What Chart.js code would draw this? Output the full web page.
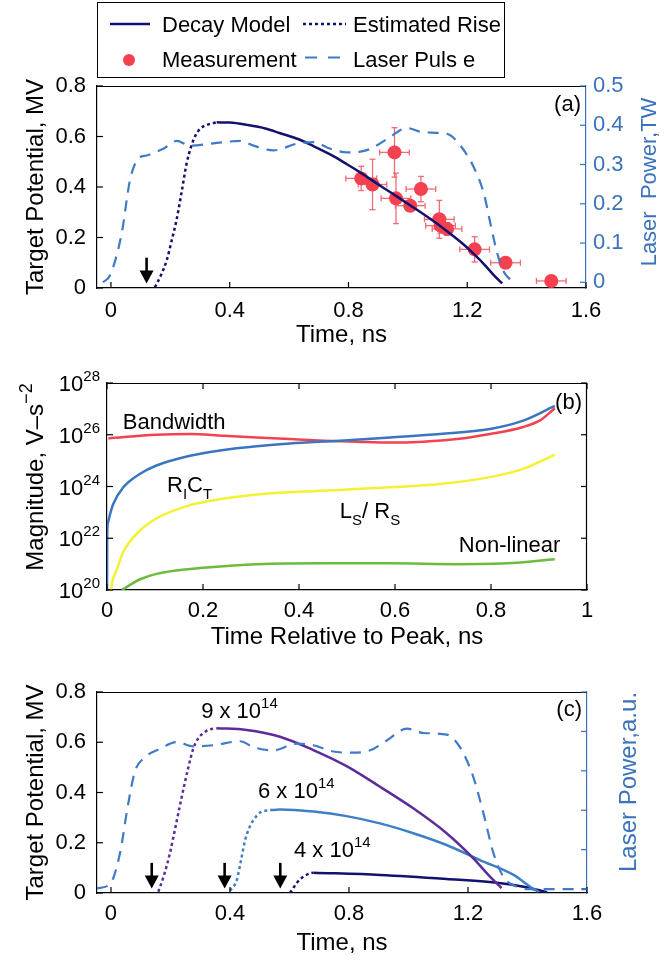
<!DOCTYPE html>
<html><head><meta charset="utf-8">
<script src="https://cdn.jsdelivr.net/npm/chart.js@4.4.1/dist/chart.umd.min.js"></script>
<style>
html,body{margin:0;padding:0;background:#fff;}
body{width:672px;height:960px;position:relative;overflow:hidden;}
canvas{position:absolute;left:0;}
</style></head><body>
<canvas id="ca" width="672" height="345" style="top:0"></canvas>
<canvas id="cb" width="672" height="315" style="top:345px"></canvas>
<canvas id="cc" width="672" height="300" style="top:660px"></canvas>
<script>
// ---------------- DATA ----------------
// Panel (a)
const xTicksA = [0, 0.4, 0.8, 1.2, 1.6];
const xLabelsA = ['0', '0.4', '0.8', '1.2', '1.6'];
const yTicksA = [0, 0.2, 0.4, 0.6, 0.8];
const yLabelsA = ['0', '0.2', '0.4', '0.6', '0.8'];
const rTicksA = [0, 0.1, 0.2, 0.3, 0.4, 0.5];
const rLabelsA = ['0', '0.1', '0.2', '0.3', '0.4', '0.5'];

const laserA_t = [-0.027,-0.003,0.036,0.064,0.092,0.12,0.176,0.221,0.266,0.345,0.435,0.48,0.547,0.626,0.682,0.739,0.795,0.84,0.874,0.93,0.997,1.053,1.132,1.177,1.222,1.256,1.278,1.301,1.323,1.346];
const laserA_p = [0,0.018,0.124,0.26,0.315,0.323,0.34,0.36,0.348,0.354,0.36,0.348,0.336,0.353,0.357,0.34,0.331,0.333,0.34,0.365,0.393,0.382,0.378,0.348,0.293,0.226,0.15,0.074,0.027,0.006];

const riseA_t = [0.148,0.168,0.188,0.205,0.221,0.238,0.255,0.27,0.283,0.30,0.323,0.356];
const riseA_v = [0.003,0.05,0.111,0.19,0.27,0.38,0.494,0.56,0.6,0.63,0.646,0.656];

const decayA_t = [0.356,0.40,0.458,0.52,0.57,0.63,0.682,0.74,0.795,0.843,0.907,0.96,1.02,1.08,1.132,1.18,1.222,1.26,1.29,1.318];
const decayA_v = [0.656,0.655,0.646,0.632,0.613,0.59,0.562,0.528,0.49,0.455,0.405,0.365,0.318,0.27,0.225,0.18,0.135,0.09,0.05,0.018];

const measA_t  = [0.843,0.881,0.955,0.960,1.008,1.044,1.106,1.110,1.132,1.225,1.329,1.483];
const measA_v  = [0.434,0.41,0.537,0.355,0.326,0.392,0.272,0.247,0.234,0.153,0.1,0.028];
const measA_dt = [0.052,0.048,0.05,0.05,0.05,0.05,0.05,0.05,0.05,0.05,0.05,0.05];
const measA_dv = [0.048,0.1,0.098,0.1,0.02,0.05,0.075,0.03,0.025,0.05,0.02,0.02];

const arrowA_t = [0.12];

// Panel (b)
const xTicksB = [0, 0.2, 0.4, 0.6, 0.8, 1];
const xLabelsB = ['0', '0.2', '0.4', '0.6', '0.8', '1'];
const yTicksB = [1e20, 1e22, 1e24, 1e26, 1e28];
const yExpB = ['20', '22', '24', '26', '28'];

const bandB_t = [0.003,0.103,0.173,0.243,0.312,0.381,0.451,0.52,0.59,0.659,0.729,0.798,0.867,0.902,0.933];
const bandB_v = [7.2e25,1.0e26,1.07e26,9.1e25,7.9e25,6.8e25,5.9e25,5.4e25,5.0e25,5.4e25,6.8e25,1.07e26,2.0e26,3.6e26,1.05e27];

const rcB_t = [0,0.0005,0.002,0.006,0.013,0.034,0.069,0.103,0.173,0.243,0.312,0.381,0.485,0.59,0.694,0.798,0.867,0.933];
const rcB_v = [1e20,1.6e22,4e22,8e22,2.1e23,9.3e23,3.1e24,6.5e24,1.55e25,2.6e25,3.6e25,4.6e25,5.9e25,7.9e25,1.07e26,1.66e26,3.5e26,1.3e27];

const lrB_t = [0.008,0.012,0.02,0.034,0.069,0.103,0.173,0.243,0.312,0.381,0.485,0.59,0.694,0.798,0.867,0.933];
const lrB_v = [1e20,2.5e20,5.9e20,3.0e21,2.0e22,5.8e22,1.9e23,3.4e23,4.9e23,6.0e23,7.4e23,9.3e23,1.26e24,2.3e24,4.8e24,1.7e25];

const nlB_t = [0.031,0.05,0.069,0.103,0.173,0.243,0.312,0.451,0.59,0.729,0.833,0.933];
const nlB_v = [1e20,1.66e20,2.6e20,4.2e20,6.5e20,8.3e20,9.8e20,1.07e21,1.07e21,1.0e21,1.07e21,1.55e21];

// Panel (c)
const xTicksC = [0, 0.4, 0.8, 1.2, 1.6];
const xLabelsC = ['0', '0.4', '0.8', '1.2', '1.6'];
const yTicksC = [0, 0.2, 0.4, 0.6, 0.8];
const yLabelsC = ['0', '0.2', '0.4', '0.6', '0.8'];
const rTicksC = [0, 0.1, 0.2, 0.3, 0.4, 0.5];

const laserC_t = [-0.047,-0.003,0.03,0.058,0.081,0.109,0.165,0.221,0.277,0.344,0.434,0.479,0.546,0.624,0.68,0.747,0.815,0.871,0.927,0.994,1.05,1.128,1.173,1.218,1.252,1.286,1.319,1.364,1.409,1.6];
const laserC_p = [0.002,0.013,0.09,0.217,0.30,0.331,0.356,0.373,0.362,0.365,0.375,0.36,0.352,0.369,0.365,0.349,0.346,0.352,0.377,0.407,0.396,0.392,0.36,0.284,0.192,0.09,0.031,0.006,0,0];

const rise9_t = [0.159,0.178,0.198,0.218,0.238,0.258,0.277,0.293,0.31,0.33,0.355];
const rise9_v = [0.005,0.07,0.158,0.27,0.383,0.49,0.576,0.615,0.636,0.65,0.656];
const decay9_t = [0.355,0.456,0.568,0.68,0.792,0.904,1.016,1.128,1.218,1.274,1.313];
const decay9_v = [0.656,0.649,0.622,0.569,0.505,0.423,0.337,0.238,0.138,0.065,0.019];

const rise6_t = [0.4,0.423,0.437,0.451,0.465,0.479,0.501,0.535];
const rise6_v = [0.009,0.052,0.13,0.211,0.26,0.29,0.32,0.33];
const decay6_t = [0.535,0.568,0.68,0.792,0.904,1.016,1.128,1.24,1.353,1.409,1.437];
const decay6_v = [0.33,0.332,0.324,0.306,0.277,0.238,0.191,0.131,0.072,0.025,0.005];

const rise4_t = [0.602,0.624,0.647,0.669,0.68];
const rise4_v = [0,0.039,0.065,0.078,0.081];
const decay4_t = [0.68,0.904,1.128,1.297,1.387,1.466];
const decay4_v = [0.081,0.072,0.056,0.041,0.025,0.003];

const arrowC_t = [0.137, 0.382, 0.569];
const arrowTop = 0.12, arrowTip = 0.018;

// ---------------- STYLE ----------------
const FONT = '"Liberation Sans", Arial, Helvetica, sans-serif';
const NAVY = '#12126e', RED = '#f4404f', ERR = '#f26a75', LBLUE = '#3f7bc6', AXBLUE = '#3a72bb';
const BRED = '#f2424f', BBLUE = '#3a76c0', BYEL = '#f2f232', BGREEN = '#6bbb3c';
const PURPLE = '#5d2c9a', C6 = '#3d80c8';

const pts = (t, v) => t.map((x, i) => ({x, y: v[i]}));
const lbl = (ticks, labels) => (v) => { const i = ticks.findIndex(t => Math.abs(t - v) < 1e-9); return i < 0 ? '' : labels[i]; };
const fixTicks = (arr) => (s) => { s.ticks = arr.map(v => ({value: v})); };

function drawRich(ctx, parts, x, y, align, color) {
  let w = 0;
  const ms = parts.map(p => { ctx.font = `${p.s || 22}px ${FONT}`; const m = ctx.measureText(p.t).width; w += m; return m; });
  let cx = align === 'right' ? x - w : align === 'center' ? x - w / 2 : x;
  ctx.fillStyle = color || '#000'; ctx.textBaseline = 'alphabetic'; ctx.textAlign = 'left';
  parts.forEach((p, i) => { ctx.font = `${p.s || 22}px ${FONT}`; ctx.fillText(p.t, cx, y + (p.dy || 0)); cx += ms[i]; });
}
function drawRot(ctx, parts, x, y, color) {
  ctx.save(); ctx.translate(x, y); ctx.rotate(-Math.PI / 2);
  drawRich(ctx, parts, 0, 0, 'center', color);
  ctx.restore();
}
function line(ctx, x0, y0, x1, y1) { ctx.beginPath(); ctx.moveTo(x0, y0); ctx.lineTo(x1, y1); ctx.stroke(); }

function decor(cfg) {
  return {
    id: 'decor',
    beforeDatasetsDraw(chart) {
      if (!cfg.errors) return;
      const ctx = chart.ctx, xs = chart.scales.x, ys = chart.scales.y, e = cfg.errors;
      ctx.save(); ctx.strokeStyle = ERR; ctx.lineWidth = 1.3;
      e.t.forEach((t, i) => {
        const px = xs.getPixelForValue(t), py = ys.getPixelForValue(e.v[i]);
        const x0 = xs.getPixelForValue(t - e.dt[i]), x1 = xs.getPixelForValue(t + e.dt[i]);
        const y0 = ys.getPixelForValue(e.v[i] - e.dv[i]), y1 = ys.getPixelForValue(e.v[i] + e.dv[i]);
        line(ctx, x0, py, x1, py); line(ctx, x0, py - 3, x0, py + 3); line(ctx, x1, py - 3, x1, py + 3);
        line(ctx, px, y0, px, y1); line(ctx, px - 3, y0, px + 3, y0); line(ctx, px - 3, y1, px + 3, y1);
      });
      ctx.restore();
    },
    afterDraw(chart) {
      const ctx = chart.ctx, a = chart.chartArea;
      ctx.save();
      ctx.lineWidth = 1.2; ctx.strokeStyle = '#000';
      line(ctx, a.left, a.top + 0.5, a.right, a.top + 0.5);
      if (cfg.boxRight) line(ctx, a.right - 0.5, a.top, a.right - 0.5, a.bottom);
      (cfg.ticks || []).forEach(tk => {
        const s = chart.scales[tk.scale]; ctx.strokeStyle = tk.color || '#000'; ctx.lineWidth = 1.2;
        tk.values.forEach(v => {
          const p = s.getPixelForValue(v);
          if (tk.side === 'bottom') line(ctx, p, a.bottom, p, a.bottom - 6);
          if (tk.side === 'top') line(ctx, p, a.top, p, a.top + 6);
          if (tk.side === 'left') line(ctx, a.left, p, a.left + 6, p);
          if (tk.side === 'right') line(ctx, a.right, p, a.right - 6, p);
        });
      });
      if (cfg.logLabels) {
        const s = chart.scales.y;
        cfg.logLabels.values.forEach((v, i) => {
          const p = s.getPixelForValue(v);
          drawRich(ctx, [{t: '10', s: 22}, {t: cfg.logLabels.exps[i], s: 15, dy: -10}], a.left - 7, p + 8, 'right');
        });
      }
      (cfg.titles || []).forEach(ti => {
        if (ti.rot) drawRot(ctx, ti.parts, ti.x(a), ti.y(a), ti.color);
        else drawRich(ctx, ti.parts, ti.x(a), ti.y(a), 'center', ti.color);
      });
      (cfg.notes || []).forEach(n => {
        const x = chart.scales.x.getPixelForValue(n.x), y = chart.scales.y.getPixelForValue(n.y);
        drawRich(ctx, n.parts, x, y, 'left', '#000');
      });
      if (cfg.panel) drawRich(ctx, [{t: cfg.panel, s: 22}], a.right - 5, a.top + cfg.panelDy, 'right', '#000');
      if (cfg.arrows) {
        const xs = chart.scales.x, ys = chart.scales.y;
        ctx.fillStyle = '#000'; ctx.strokeStyle = '#000';
        cfg.arrows.forEach(t => {
          const x = xs.getPixelForValue(t), yt = ys.getPixelForValue(arrowTop), yb = ys.getPixelForValue(arrowTip);
          ctx.lineWidth = 2.6; line(ctx, x, yt, x, yb - 10);
          ctx.beginPath(); ctx.moveTo(x - 7, yb - 13); ctx.lineTo(x + 7, yb - 13); ctx.lineTo(x, yb); ctx.closePath(); ctx.fill();
        });
      }
      if (cfg.legend) {
        const ds = chart.data.datasets;
        ctx.lineWidth = 1; ctx.strokeStyle = '#000';
        ctx.fillStyle = '#fff'; ctx.fillRect(97, 2, 408, 76);
        ctx.strokeRect(97.5, 2.5, 407, 75);
        const sample = (d, x0, x1, y) => { ctx.save(); ctx.strokeStyle = d.borderColor; ctx.lineWidth = d.borderWidth; ctx.setLineDash(d.borderDash || []); line(ctx, x0, y, x1, y); ctx.restore(); };
        sample(ds[2], 110, 150, 24); drawRich(ctx, [{t: ds[2].label}], 162, 32, 'left');
        sample(ds[1], 303, 346, 24); drawRich(ctx, [{t: ds[1].label}], 353, 32, 'left');
        ctx.fillStyle = ds[3].backgroundColor; ctx.beginPath(); ctx.arc(129, 60, 6, 0, Math.PI * 2); ctx.fill();
        drawRich(ctx, [{t: ds[3].label}], 162, 67, 'left');
        ctx.save(); ctx.strokeStyle = ds[0].borderColor; ctx.lineWidth = ds[0].borderWidth; ctx.setLineDash([12, 11]); line(ctx, 305, 57.5, 343, 57.5); ctx.restore();
        drawRich(ctx, [{t: ds[0].label}], 353, 67, 'left');
      }
      ctx.restore();
    }
  };
}

const tickFont = {family: FONT, size: 22};
const common = {responsive: false, animation: false, devicePixelRatio: 1, plugins: {legend: {display: false}, tooltip: {enabled: false}}};
const lineDs = (label, data, color, w, dash, axis) => ({label, data, yAxisID: axis || 'y', borderColor: color, backgroundColor: color, borderWidth: w, borderDash: dash || [], pointRadius: 0, fill: false, cubicInterpolationMode: 'monotone'});

// ---------------- CHART (a) ----------------
new Chart(document.getElementById('ca'), {
  type: 'line',
  data: {datasets: [
    lineDs('Laser Puls e', pts(laserA_t, laserA_p), LBLUE, 2.2, [11, 8], 'yR'),
    lineDs('Estimated Rise', pts(riseA_t, riseA_v), NAVY, 2.5, [3, 3]),
    lineDs('Decay Model', pts(decayA_t, decayA_v), NAVY, 2.5),
    {label: 'Measurement', data: pts(measA_t, measA_v), yAxisID: 'y', showLine: false, pointRadius: 7, pointBackgroundColor: RED, pointBorderColor: RED, backgroundColor: RED, borderColor: RED, pointBorderWidth: 0}
  ]},
  options: Object.assign({}, common, {
    layout: {padding: {top: 86, left: 0, right: 0, bottom: 0}},
    scales: {
      x: {type: 'linear', min: -0.047, max: 1.6, afterBuildTicks: fixTicks(xTicksA), afterFit: s => { s.height = 57; },
          ticks: {font: tickFont, color: '#000', padding: 10, maxRotation: 0, autoSkip: false, callback: lbl(xTicksA, xLabelsA)},
          grid: {display: false, drawTicks: false}, border: {display: true, color: '#000', width: 1.2}},
      y: {type: 'linear', position: 'left', min: 0, max: 0.8, afterBuildTicks: fixTicks(yTicksA), afterFit: s => { s.width = 97; },
          ticks: {font: tickFont, color: '#000', padding: 11, autoSkip: false, callback: lbl(yTicksA, yLabelsA)},
          grid: {display: false, drawTicks: false}, border: {display: true, color: '#000', width: 1.2}},
      yR: {type: 'linear', position: 'right', min: -0.0145, max: 0.5, afterBuildTicks: fixTicks(rTicksA), afterFit: s => { s.width = 86; },
          ticks: {font: tickFont, color: AXBLUE, padding: 7, autoSkip: false, callback: lbl(rTicksA, rLabelsA)},
          grid: {display: false, drawTicks: false}, border: {display: true, color: AXBLUE, width: 1.2}}
    }
  }),
  plugins: [decor({
    legend: true,
    errors: {t: measA_t, v: measA_v, dt: measA_dt, dv: measA_dv},
    ticks: [{scale: 'x', side: 'bottom', values: xTicksA}, {scale: 'y', side: 'left', values: yTicksA}, {scale: 'yR', side: 'right', values: rTicksA, color: AXBLUE}],
    titles: [
      {parts: [{t: 'Time, ns', s: 24}], x: a => (a.left + a.right) / 2, y: a => a.bottom + 54},
      {rot: true, parts: [{t: 'Target Potential, MV', s: 24}], x: a => 43, y: a => (a.top + a.bottom) / 2},
      {rot: true, color: AXBLUE, parts: [{t: 'Laser  Power,TW', s: 22}], x: a => 656, y: a => 182}
    ],
    panel: '(a)', panelDy: 25,
    arrows: arrowA_t
  })]
});

// ---------------- CHART (b) ----------------
new Chart(document.getElementById('cb'), {
  type: 'line',
  data: {datasets: [
    lineDs('Non-linear', pts(nlB_t, nlB_v), BGREEN, 2.5),
    lineDs('LS/RS', pts(lrB_t, lrB_v), BYEL, 2.5),
    lineDs('RICT', pts(rcB_t, rcB_v), BBLUE, 2.5),
    lineDs('Bandwidth', pts(bandB_t, bandB_v), BRED, 2.5)
  ]},
  options: Object.assign({}, common, {
    layout: {padding: {top: 38, left: 0, right: 85, bottom: 0}},
    scales: {
      x: {type: 'linear', min: 0, max: 1, afterBuildTicks: fixTicks(xTicksB), afterFit: s => { s.height = 70; },
          ticks: {font: tickFont, color: '#000', padding: 8, maxRotation: 0, autoSkip: false, callback: lbl(xTicksB, xLabelsB)},
          grid: {display: false, drawTicks: false}, border: {display: true, color: '#000', width: 1.2}},
      y: {type: 'logarithmic', position: 'left', min: 1e20, max: 1e28, afterBuildTicks: fixTicks(yTicksB), afterFit: s => { s.width = 107; },
          ticks: {display: false},
          grid: {display: false, drawTicks: false}, border: {display: true, color: '#000', width: 1.2}}
    }
  }),
  plugins: [decor({
    boxRight: true,
    logLabels: {values: yTicksB, exps: yExpB},
    ticks: [{scale: 'x', side: 'bottom', values: xTicksB}, {scale: 'x', side: 'top', values: xTicksB},
            {scale: 'y', side: 'left', values: yTicksB}, {scale: 'y', side: 'right', values: yTicksB}],
    titles: [
      {parts: [{t: 'Time Relative to Peak, ns', s: 24}], x: a => (a.left + a.right) / 2, y: a => a.bottom + 54},
      {rot: true, parts: [{t: 'Magnitude, V\u2013s', s: 24}, {t: '\u22122', s: 18, dy: -11}], x: a => 43, y: a => 132}
    ],
    notes: [
      {x: 0.033, y: 1.7e26, parts: [{t: 'Bandwidth'}]},
      {x: 0.125, y: 5.9e23, parts: [{t: 'R'}, {t: 'I', s: 15, dy: 7}, {t: 'C'}, {t: 'T', s: 15, dy: 7}]},
      {x: 0.485, y: 6.3e22, parts: [{t: 'L'}, {t: 'S', s: 15, dy: 7}, {t: '/ R'}, {t: 'S', s: 15, dy: 7}]},
      {x: 0.733, y: 2.9e21, parts: [{t: 'Non-linear'}]}
    ],
    panel: '(b)', panelDy: 26
  })]
});

// ---------------- CHART (c) ----------------
new Chart(document.getElementById('cc'), {
  type: 'line',
  data: {datasets: [
    lineDs('Laser Power', pts(laserC_t, laserC_p), LBLUE, 2.2, [11, 8], 'yR'),
    lineDs('9e14 rise', pts(rise9_t, rise9_v), PURPLE, 2.5, [3, 3]),
    lineDs('9e14', pts(decay9_t, decay9_v), PURPLE, 2.5),
    lineDs('6e14 rise', pts(rise6_t, rise6_v), C6, 2.5, [3, 3]),
    lineDs('6e14', pts(decay6_t, decay6_v), C6, 2.5),
    lineDs('4e14 rise', pts(rise4_t, rise4_v), NAVY, 2.5, [3, 3]),
    lineDs('4e14', pts(decay4_t, decay4_v), NAVY, 2.5)
  ]},
  options: Object.assign({}, common, {
    layout: {padding: {top: 32, left: 0, right: 0, bottom: 0}},
    scales: {
      x: {type: 'linear', min: -0.047, max: 1.6, afterBuildTicks: fixTicks(xTicksC), afterFit: s => { s.height = 67; },
          ticks: {font: tickFont, color: '#000', padding: 8, maxRotation: 0, autoSkip: false, callback: lbl(xTicksC, xLabelsC)},
          grid: {display: false, drawTicks: false}, border: {display: true, color: '#000', width: 1.2}},
      y: {type: 'linear', position: 'left', min: 0, max: 0.8, afterBuildTicks: fixTicks(yTicksC), afterFit: s => { s.width = 97; },
          ticks: {font: tickFont, color: '#000', padding: 11, autoSkip: false, callback: lbl(yTicksC, yLabelsC)},
          grid: {display: false, drawTicks: false}, border: {display: true, color: '#000', width: 1.2}},
      yR: {type: 'linear', position: 'right', min: -0.01, max: 0.5, afterBuildTicks: fixTicks(rTicksC), afterFit: s => { s.width = 85; },
          ticks: {display: false},
          grid: {display: false, drawTicks: false}, border: {display: true, color: AXBLUE, width: 1.2}}
    }
  }),
  plugins: [decor({
    ticks: [{scale: 'x', side: 'bottom', values: xTicksC}, {scale: 'y', side: 'left', values: yTicksC}, {scale: 'yR', side: 'right', values: rTicksC, color: AXBLUE}],
    titles: [
      {parts: [{t: 'Time, ns', s: 24}], x: a => (a.left + a.right) / 2, y: a => a.bottom + 57},
      {rot: true, parts: [{t: 'Target Potential, MV', s: 24}], x: a => 43, y: a => (a.top + a.bottom) / 2},
      {rot: true, color: AXBLUE, parts: [{t: 'Laser Power,a.u.', s: 24}], x: a => 636, y: a => 122}
    ],
    notes: [
      {x: 0.303, y: 0.697, parts: [{t: '9 x 10'}, {t: '14', s: 15, dy: -10}]},
      {x: 0.494, y: 0.378, parts: [{t: '6 x 10'}, {t: '14', s: 15, dy: -10}]},
      {x: 0.615, y: 0.143, parts: [{t: '4 x 10'}, {t: '14', s: 15, dy: -10}]}
    ],
    panel: '(c)', panelDy: 24,
    arrows: arrowC_t
  })]
});
</script>
</body></html>
